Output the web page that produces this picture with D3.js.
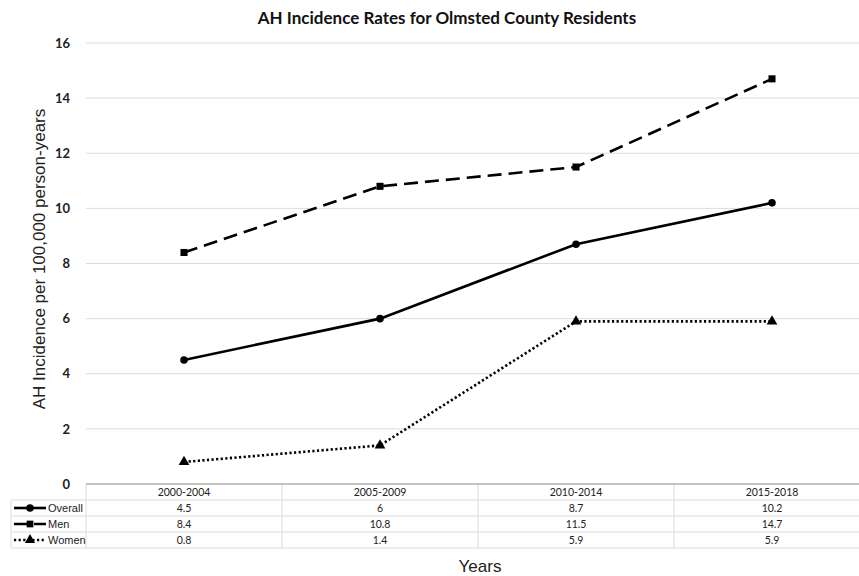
<!DOCTYPE html>
<html><head><meta charset="utf-8">
<script src="https://cdn.jsdelivr.net/npm/d3@7"></script>
<style>body{margin:0;background:#fff}svg{display:block}</style>
</head><body>
<svg id="c" width="859" height="576"></svg>
<script>
const categories = ["2000-2004","2005-2009","2010-2014","2015-2018"];
const overall = [4.5, 6, 8.7, 10.2];
const men = [8.4, 10.8, 11.5, 14.7];
const women = [0.8, 1.4, 5.9, 5.9];
const seriesNames = ["Overall","Men","Women"];
const yTicks = [0,2,4,6,8,10,12,14,16];

(function(){
const svg = d3.select("#c");
const pL = 86, pR = 870, pT = 43, pB = 484, W = 859;
const x = d3.scaleBand().domain(categories).range([pL, pR]);
const y = d3.scaleLinear().domain([0,16]).range([pB, pT]);
const cal = "Lato, 'Open Sans', sans-serif";
const ari = "'Liberation Sans', Arial, sans-serif";

// title
svg.append("text").attr("x", 447).attr("y", 24).attr("text-anchor","middle")
  .attr("font-family", cal).attr("font-weight","bold").attr("font-size", 17)
  .attr("fill","#111").text("AH Incidence Rates for Olmsted County Residents");

// gridlines
svg.append("g").selectAll("line").data(yTicks.filter(d=>d>0)).join("line")
  .attr("x1", pL).attr("x2", W).attr("y1", d=>y(d)).attr("y2", d=>y(d))
  .attr("stroke","#dcdcdc").attr("stroke-width",1);

// y axis labels
const yAxis = d3.axisLeft(y).tickValues(yTicks).tickSize(0).tickPadding(16);
const ga = svg.append("g").attr("transform",`translate(${pL},0)`).call(yAxis);
ga.select(".domain").remove();
ga.selectAll("text").attr("font-family", cal).attr("font-weight","bold")
  .attr("font-size", 13).attr("fill","#222");

// y title
svg.append("text").attr("transform","translate(45,259) rotate(-90)")
  .attr("text-anchor","middle").attr("font-family", ari).attr("font-size",17)
  .attr("fill","#222").text("AH Incidence per 100,000 person-years");

// series
const series = [
  {name:seriesNames[0], vals: overall, dash:null, marker:"circle"},
  {name:seriesNames[1], vals: men, dash:"14,7", marker:"square"},
  {name:seriesNames[2], vals: women, dash:"2.2,2.4", marker:"triangle"}
];
const cx = c => x(c) + x.bandwidth()/2;
const line = d3.line().x((d,i)=>cx(categories[i])).y(d=>y(d));
const symType = {circle: d3.symbolCircle, square: d3.symbolSquare, triangle: d3.symbolTriangle};
series.forEach(s => {
  svg.append("path").attr("d", line(s.vals)).attr("fill","none")
    .attr("stroke","#000").attr("stroke-width", 2.6)
    .attr("stroke-dasharray", s.dash);
  svg.append("g").selectAll("path").data(s.vals).join("path")
    .attr("transform",(d,i)=>`translate(${cx(categories[i])},${y(d)})`)
    .attr("d", d3.symbol().type(symType[s.marker]).size(s.marker==="circle"?45:50))
    .attr("fill","#000");
});

// table
const rowH = 16;
const tTop = pB, legL = 11;
const tb = svg.append("g");
const rowYs = [0,1,2,3,4].map(i=>tTop + i*rowH);
tb.selectAll("line.h").data(rowYs.slice(1)).join("line")
  .attr("x1", legL).attr("x2", W).attr("y1", d=>d).attr("y2", d=>d)
  .attr("stroke","#dcdcdc");
const vxs = categories.map(c=>x(c));
tb.selectAll("line.v").data(vxs).join("line")
  .attr("x1", d=>d).attr("x2", d=>d).attr("y1", tTop).attr("y2", tTop+4*rowH)
  .attr("stroke","#dcdcdc");
tb.append("line").attr("x1",legL).attr("x2",legL).attr("y1",tTop+rowH).attr("y2",tTop+4*rowH).attr("stroke","#dcdcdc");
svg.append("line").attr("x1",pL).attr("x2",W).attr("y1",pB).attr("y2",pB)
  .attr("stroke","#888").attr("stroke-width",1.2);
tb.selectAll("text.hd").data(categories).join("text")
  .attr("x", d=>cx(d)).attr("y", tTop + rowH/2 + 4).attr("text-anchor","middle")
  .attr("font-family", cal).attr("font-size",10.5).attr("fill","#222").text(d=>d);
series.forEach((s,ri)=>{
  const ry = tTop + (ri+1)*rowH + rowH/2;
  tb.append("g").selectAll("text").data(s.vals).join("text")
    .attr("x",(d,i)=>cx(categories[i])).attr("y", ry+4).attr("text-anchor","middle")
    .attr("font-family", cal).attr("font-size",10.5).attr("fill","#222").text(d=>d);
  tb.append("line").attr("x1",14).attr("x2",46).attr("y1",ry).attr("y2",ry)
    .attr("stroke","#000").attr("stroke-width",2.6).attr("stroke-dasharray", s.dash?(s.marker==="square"?"14,6":"2.2,2.4"):null);
  tb.append("path").attr("transform",`translate(30,${ry})`)
    .attr("d", d3.symbol().type(symType[s.marker]).size(45)).attr("fill","#000");
  tb.append("text").attr("x", 48).attr("y", ry+4)
    .attr("font-family", ari).attr("font-size",11).attr("fill","#222").text(s.name);
});

svg.append("text").attr("x", 480).attr("y", 572).attr("text-anchor","middle")
  .attr("font-family", ari).attr("font-size",17).attr("fill","#222").text("Years");
})();
</script>
</body></html>
